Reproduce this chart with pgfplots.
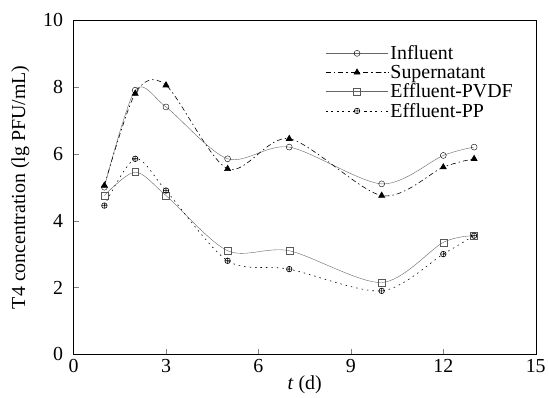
\documentclass[border=0pt]{standalone}
\usepackage{pgfplots}
\pgfplotsset{compat=1.18}
\usepackage{fontspec}
\setmainfont{Liberation Serif}

\begin{document}
\begin{tikzpicture}
\begin{axis}[
    scale only axis,
    width=463bp, height=335bp,
    xmin=0, xmax=15, ymin=0, ymax=10,
    xtick={0,3,...,15}, ytick={0,2,...,10},
    tick align=inside,
    xtick pos=bottom, ytick pos=left,
    major tick length=5pt,
    font=\fontsize{20}{23}\selectfont,
    /pgf/number format/assume math mode=true,
    yticklabel style={xshift=-7bp},
    xticklabel style={yshift=-1bp},
    xlabel={\textit{t} (d)},
    ylabel={T4 concentration (lg PFU/mL)},
    xlabel style={yshift=3pt},
    ylabel style={yshift=7pt},
    legend style={draw=none, fill=none, at={(0.955,0.93)}, anchor=north east,
        font=\fontsize{20}{22}\selectfont, row sep=0pt, inner sep=0pt},
    legend cell align=left,
    legend image code/.code={\draw[mark repeat=2,mark phase=2]
        plot coordinates {(0cm,0cm)(1.1cm,0cm)(2.2cm,0cm)};},
    every axis plot/.append style={smooth, tension=0.5},
]
\addplot[gray!80!black, thin, mark=o, mark size=3pt, mark options={fill=white, black, solid}]
  coordinates {(1,5.0)(2,7.9)(3,7.4)(5,5.85)(7,6.2)(10,5.1)(12,5.95)(13,6.2)};
\addlegendentry{Influent}
\addplot[black, semithick, dash pattern=on 5pt off 3pt on 1.5pt off 3pt, mark=triangle*, mark size=3.5pt, mark options={solid, fill=black}]
  coordinates {(1,5.05)(2,7.8)(3,8.05)(5,5.55)(7,6.45)(10,4.75)(12,5.6)(13,5.85)};
\addlegendentry{Supernatant}
\addplot[gray!80!black, thin, mark=square, mark size=3.5pt, mark options={fill=white, gray!70!black, solid}]
  coordinates {(1,4.75)(2,5.45)(3,4.75)(5,3.1)(7,3.1)(10,2.15)(12,3.35)(13,3.55)};
\addlegendentry{Effluent-PVDF}
\addplot[black, semithick, dash pattern=on 1.5pt off 4pt, mark=oplus, mark size=2.8pt, mark options={solid, fill=white}]
  coordinates {(1,4.45)(2,5.85)(3,4.9)(5,2.8)(7,2.55)(10,1.9)(12,3.0)(13,3.55)};
\addlegendentry{Effluent-PP}
\end{axis}
\path (current axis.outer north) ++(0,10bp);
\path (current axis.outer west) ++(-8bp,0);
\end{tikzpicture}
\end{document}
